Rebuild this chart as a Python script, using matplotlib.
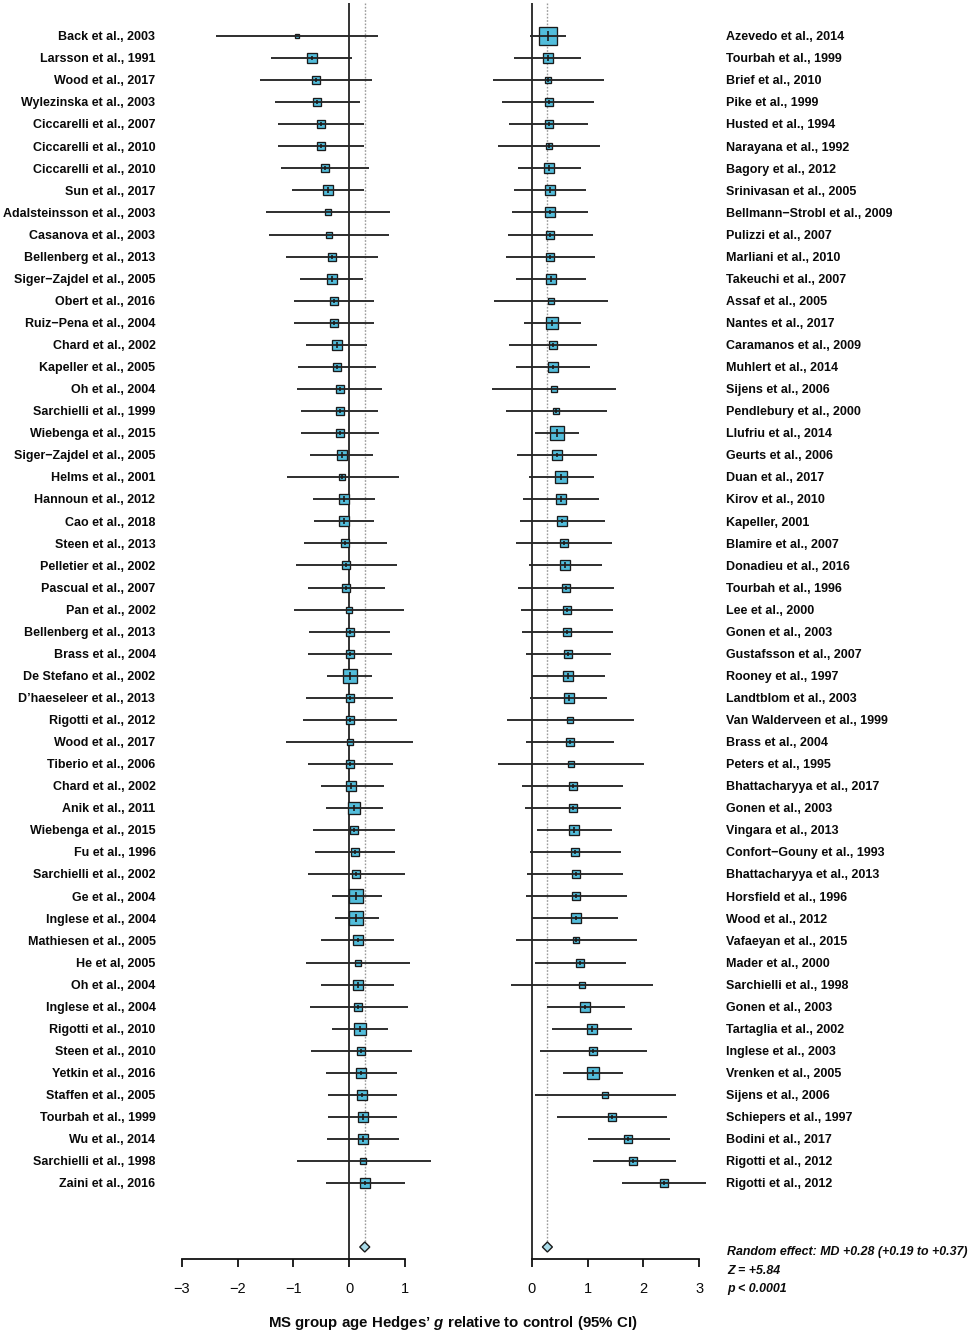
import numpy as np
import matplotlib
matplotlib.use("Agg")
import matplotlib.pyplot as plt
from matplotlib import transforms
from matplotlib.patches import Polygon

# ---------------- data ----------------
left_labels = [
    "Back et al., 2003", "Larsson et al., 1991", "Wood et al., 2017", "Wylezinska et al., 2003",
    "Ciccarelli et al., 2007", "Ciccarelli et al., 2010", "Ciccarelli et al., 2010", "Sun et al., 2017",
    "Adalsteinsson et al., 2003", "Casanova et al., 2003", "Bellenberg et al., 2013", "Siger\u2212Zajdel et al., 2005",
    "Obert et al., 2016", "Ruiz\u2212Pena et al., 2004", "Chard et al., 2002", "Kapeller et al., 2005",
    "Oh et al., 2004", "Sarchielli et al., 1999", "Wiebenga et al., 2015", "Siger\u2212Zajdel et al., 2005",
    "Helms et al., 2001", "Hannoun et al., 2012", "Cao et al., 2018", "Steen et al., 2013",
    "Pelletier et al., 2002", "Pascual et al., 2007", "Pan et al., 2002", "Bellenberg et al., 2013",
    "Brass et al., 2004", "De Stefano et al., 2002", "D\u2019haeseleer et al., 2013", "Rigotti et al., 2012",
    "Wood et al., 2017", "Tiberio et al., 2006", "Chard et al., 2002", "Anik et al., 2011",
    "Wiebenga et al., 2015", "Fu et al., 1996", "Sarchielli et al., 2002", "Ge et al., 2004",
    "Inglese et al., 2004", "Mathiesen et al., 2005", "He et al, 2005", "Oh et al., 2004",
    "Inglese et al., 2004", "Rigotti et al., 2010", "Steen et al., 2010", "Yetkin et al., 2016",
    "Staffen et al., 2005", "Tourbah et al., 1999", "Wu et al., 2014", "Sarchielli et al., 1998",
    "Zaini et al., 2016",
]
left_g = [-0.94, -0.67, -0.59, -0.57, -0.51, -0.51, -0.43, -0.38, -0.38, -0.36, -0.31, -0.31, -0.28,
          -0.28, -0.22, -0.22, -0.17, -0.17, -0.17, -0.13, -0.12, -0.10, -0.10, -0.07, -0.06, -0.05,
          -0.01, 0.01, 0.01, 0.01, 0.01, 0.01, 0.01, 0.02, 0.04, 0.09, 0.09, 0.10, 0.12, 0.13,
          0.13, 0.15, 0.15, 0.15, 0.16, 0.19, 0.22, 0.22, 0.23, 0.24, 0.25, 0.25, 0.28]
left_lo = [-2.38, -1.40, -1.59, -1.33, -1.28, -1.28, -1.22, -1.03, -1.49, -1.44, -1.13, -0.88, -0.99,
           -0.99, -0.77, -0.92, -0.94, -0.86, -0.86, -0.70, -1.11, -0.65, -0.63, -0.81, -0.96, -0.74,
           -0.99, -0.72, -0.74, -0.39, -0.77, -0.83, -1.13, -0.74, -0.51, -0.42, -0.64, -0.61, -0.74,
           -0.30, -0.25, -0.51, -0.78, -0.51, -0.71, -0.31, -0.68, -0.42, -0.38, -0.38, -0.39, -0.94, -0.42]
left_hi = [0.51, 0.06, 0.41, 0.20, 0.27, 0.27, 0.36, 0.27, 0.74, 0.72, 0.51, 0.25, 0.45,
           0.45, 0.32, 0.48, 0.59, 0.51, 0.53, 0.43, 0.89, 0.46, 0.45, 0.67, 0.85, 0.64,
           0.98, 0.74, 0.76, 0.41, 0.79, 0.85, 1.14, 0.79, 0.62, 0.60, 0.83, 0.82, 1.00,
           0.58, 0.53, 0.80, 1.09, 0.81, 1.06, 0.70, 1.13, 0.86, 0.85, 0.86, 0.90, 1.46, 1.00]
left_w = [4, 9, 7, 8, 8, 8, 7.5, 9.5, 6, 6, 8, 10, 8.5,
          8.5, 10, 8, 8, 8.5, 8.5, 10, 6.5, 10.5, 10.5, 8, 7, 8.5,
          6, 8.5, 8, 14.5, 8, 7.5, 5.5, 8, 10, 11.5, 8, 8, 7,
          13, 14, 9, 6, 9.5, 7.5, 11, 7, 9, 9, 9.5, 9.5, 5, 9]

right_labels = [
    "Azevedo et al., 2014", "Tourbah et al., 1999", "Brief et al., 2010", "Pike et al., 1999",
    "Husted et al., 1994", "Narayana et al., 1992", "Bagory et al., 2012", "Srinivasan et al., 2005",
    "Bellmann\u2212Strobl et al., 2009", "Pulizzi et al., 2007", "Marliani et al., 2010", "Takeuchi et al., 2007",
    "Assaf et al., 2005", "Nantes et al., 2017", "Caramanos et al., 2009", "Muhlert et al., 2014",
    "Sijens et al., 2006", "Pendlebury et al., 2000", "Llufriu et al., 2014", "Geurts et al., 2006",
    "Duan et al., 2017", "Kirov et al., 2010", "Kapeller, 2001", "Blamire et al., 2007",
    "Donadieu et al., 2016", "Tourbah et al., 1996", "Lee et al., 2000", "Gonen et al., 2003",
    "Gustafsson et al., 2007", "Rooney et al., 1997", "Landtblom et al., 2003", "Van Walderveen et al., 1999",
    "Brass et al., 2004", "Peters et al., 1995", "Bhattacharyya et al., 2017", "Gonen et al., 2003",
    "Vingara et al., 2013", "Confort\u2212Gouny et al., 1993", "Bhattacharyya et al., 2013", "Horsfield et al., 1996",
    "Wood et al., 2012", "Vafaeyan et al., 2015", "Mader et al., 2000", "Sarchielli et al., 1998",
    "Gonen et al., 2003", "Tartaglia et al., 2002", "Inglese et al., 2003", "Vrenken et al., 2005",
    "Sijens et al., 2006", "Schiepers et al., 1997", "Bodini et al., 2017", "Rigotti et al., 2012",
    "Rigotti et al., 2012",
]
right_g = [0.29, 0.29, 0.29, 0.30, 0.30, 0.31, 0.31, 0.33, 0.33, 0.33, 0.33, 0.34, 0.34,
           0.37, 0.38, 0.38, 0.39, 0.43, 0.45, 0.45, 0.53, 0.53, 0.55, 0.58, 0.59, 0.61, 0.64,
           0.64, 0.65, 0.65, 0.66, 0.69, 0.69, 0.70, 0.73, 0.74, 0.76, 0.78, 0.79, 0.79,
           0.79, 0.80, 0.86, 0.90, 0.96, 1.08, 1.10, 1.10, 1.31, 1.43, 1.72, 1.81, 2.36]
right_lo = [-0.04, -0.31, -0.70, -0.53, -0.41, -0.60, -0.24, -0.31, -0.35, -0.42, -0.47, -0.29, -0.68,
            -0.14, -0.40, -0.29, -0.72, -0.46, 0.05, -0.26, -0.05, -0.15, -0.21, -0.28, -0.05, -0.24, -0.19,
            -0.17, -0.11, 0.01, -0.04, -0.45, -0.10, -0.61, -0.17, -0.12, 0.09, -0.03, -0.08, -0.11,
            0.01, -0.29, 0.06, -0.38, 0.27, 0.36, 0.14, 0.56, 0.06, 0.45, 1.01, 1.09, 1.61]
right_hi = [0.61, 0.89, 1.29, 1.12, 1.01, 1.23, 0.89, 0.97, 1.01, 1.09, 1.14, 0.98, 1.37,
            0.89, 1.17, 1.05, 1.50, 1.35, 0.85, 1.16, 1.11, 1.20, 1.31, 1.44, 1.26, 1.48, 1.46,
            1.45, 1.42, 1.31, 1.35, 1.83, 1.48, 2.01, 1.64, 1.60, 1.43, 1.59, 1.64, 1.70,
            1.55, 1.89, 1.68, 2.17, 1.67, 1.80, 2.06, 1.64, 2.59, 2.42, 2.48, 2.59, 3.12]
right_w = [18, 10, 6.5, 7.5, 8.5, 6.5, 10.5, 9.5, 9, 8.5, 8, 10, 6,
           11.5, 8, 9, 6, 6.5, 14.5, 9, 11, 9.5, 9, 7.5, 9.5, 8, 8,
           8.5, 8.5, 10, 9.5, 5.5, 8.5, 5.5, 8, 8, 10, 8.5, 8, 8,
           9, 6.5, 8, 5.5, 9, 9.5, 7, 11.5, 5.5, 7, 8, 8, 8.5]

pooled = 0.28
pooled_lo = 0.19
pooled_hi = 0.37
stats_lines = ["Random effect: MD +0.28 (+0.19 to +0.37)", "Z = +5.84", "p < 0.0001"]
left_ticks = [-3, -2, -1, 0, 1]
right_ticks = [0, 1, 2, 3]

# ---------------- fonts ----------------
plt.rcParams["font.family"] = ["Liberation Sans", "DejaVu Sans"]
plt.rcParams["mathtext.fontset"] = "custom"
plt.rcParams["mathtext.it"] = "Liberation Sans:italic:bold"
plt.rcParams["mathtext.rm"] = "Liberation Sans:bold"

LABEL_FS = 9.0
TICK_FS = 10.5
STAT_FS = 8.9
XLAB_FS = 10.8

W, H = 974, 1339
fig = plt.figure(figsize=(W / 100, H / 100), dpi=100)

BLUE = "#52bddb"
EDGE = "#1a1a1a"
LINE = "#262626"
TXT = "#0a0a0a"

TOP_PX, BOT_PX = 3, 1259
ROW0, DY = 36.0, 22.06
def prow(py):
    return (py - ROW0) / DY
ylim = (prow(BOT_PX), prow(TOP_PX))
diam_y = prow(1247)
diam_h = 5.0 / DY
LABEL_SHIFT = 1.2 / DY

def make_ax(x0, x1, xlim):
    ax = fig.add_axes([x0 / W, 1 - BOT_PX / H, (x1 - x0) / W, (BOT_PX - TOP_PX) / H])
    ax.set_xlim(*xlim)
    ax.set_ylim(*ylim)
    for s in ("top", "left", "right"):
        ax.spines[s].set_visible(False)
    ax.spines["bottom"].set_linewidth(1.3)
    ax.spines["bottom"].set_color("#111111")
    ax.set_yticks([])
    ax.patch.set_alpha(0)
    return ax

def panel(ax, g, lo, hi, w, ticks):
    y = np.arange(len(g))
    ax.axvline(0, color="#1a1a1a", lw=1.25, zorder=1)
    ax.vlines(pooled, ylim[1], diam_y - diam_h, color="#9a9a9a", lw=1.0,
              linestyles=(0, (1.2, 1.2)), zorder=1)
    for yi, gi, wi in zip(y, g, w):
        ax.plot([gi], [yi], marker="s", ms=wi * 0.74, mfc=BLUE, mec=EDGE, mew=0.95,
                ls="none", zorder=2)
    ax.hlines(y, lo, hi, color=LINE, lw=1.35, zorder=3)
    for yi, gi, wi in zip(y, g, w):
        if wi >= 6.5:
            ax.plot([gi], [yi], marker="|", ms=wi * 0.72 * 0.55, mec=EDGE, mew=1.2,
                    ls="none", zorder=4)
    d = Polygon([[pooled_lo, diam_y], [pooled, diam_y - diam_h], [pooled_hi, diam_y],
                 [pooled, diam_y + diam_h]], closed=True, fc="#a8dbe9", ec=EDGE, lw=1.0, zorder=5)
    ax.add_patch(d)
    ax.spines["bottom"].set_bounds(ticks[0], ticks[-1])
    ax.set_xticks(ticks)
    ax.tick_params(axis="x", direction="out", length=6, width=1.3, color="#111111",
                   pad=10.5, labelsize=TICK_FS, labelcolor=TXT)

# left panel: -3 at 181.7 px, 1 at 405 px
axL = make_ax(165.0, 444.0, (-3.3, 1.7))
panel(axL, left_g, left_lo, left_hi, left_w, left_ticks)
# right panel: 0 at 531.8 px, 3 at 699.3 px
axR = make_ax(487.1, 716.0, (-0.8, 3.3))
panel(axR, right_g, right_lo, right_hi, right_w, right_ticks)

# study labels
trL = transforms.blended_transform_factory(fig.transFigure, axL.transData)
for i, lab in enumerate(left_labels):
    fig.text(155.5 / W, i + LABEL_SHIFT, lab, transform=trL, ha="right", va="center",
             fontsize=LABEL_FS, fontweight="bold", color=TXT)
trR = transforms.blended_transform_factory(fig.transFigure, axR.transData)
for i, lab in enumerate(right_labels):
    fig.text(726.0 / W, i + LABEL_SHIFT, lab, transform=trR, ha="left", va="center",
             fontsize=LABEL_FS, fontweight="bold", color=TXT)

# summary statistics
for txt, py in zip(stats_lines, [1252, 1271, 1289]):
    fig.text(727.0 / W, 1 - py / H, txt, ha="left", va="center", fontsize=STAT_FS,
             fontweight="bold", style="italic", color=TXT)

# x label
fig.text(453.0 / W, 1 - 1323 / H, "MS group age Hedges\u2019 $g$ relative to control (95% CI)",
         ha="center", va="center", fontsize=XLAB_FS, fontweight="bold", color=TXT)

fig.savefig("out.png", dpi=100)
